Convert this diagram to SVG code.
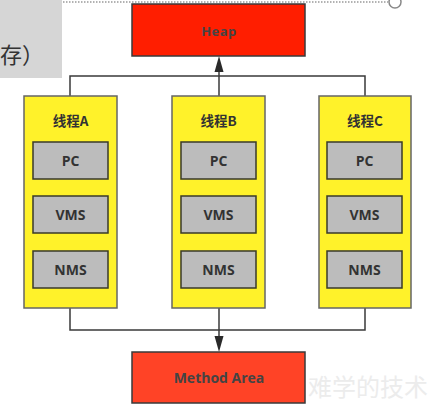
<svg xmlns="http://www.w3.org/2000/svg" width="437" height="415" viewBox="0 0 437 415">
<style>
.thread{fill:#fff22a;stroke:#666;stroke-width:1.5}
.slot{fill:#bcbcbc;stroke:#3a3a2a;stroke-width:1.5}
.lbl{font-family:"Open Sans","Noto Sans CJK SC",sans-serif;font-weight:bold;font-size:14px;fill:#333;text-anchor:middle}
.tl{font-family:"Noto Sans CJK SC","Open Sans",sans-serif;font-weight:bold;font-size:13.5px;fill:#333;text-anchor:middle}
.conn{fill:none;stroke:#3a3a3a;stroke-width:1.5}
.head{fill:#2a2a2a}
</style>
<rect width="437" height="415" fill="#ffffff"/>
<line x1="0" y1="2" x2="388" y2="2" stroke="#999" stroke-width="1.5" stroke-dasharray="1.5,1.5"/>
<circle cx="395" cy="2" r="6" fill="#fff" stroke="#888" stroke-width="1.5"/>
<g id="slide-fragment">
<rect x="0" y="0" width="62" height="78" fill="#d6d6d6"/>
<text x="0" y="63" font-family="Noto Sans CJK SC,sans-serif" font-size="22" fill="#333">存）</text>
</g>
<text x="308" y="396" font-family="Noto Sans CJK SC,sans-serif" font-size="24" fill="#ececec">难学的技术</text>
<g id="connectors">
<path class="conn" d="M70,96 V76 H365 V96"/>
<path class="conn" d="M219,96 V70"/>
<path class="head" d="M219,56 L214.5,72 L223.5,72 z"/>
<path class="conn" d="M70,308 V330 H365 V308"/>
<path class="conn" d="M219,308 V338"/>
<path class="head" d="M219,352 L214.5,336 L223.5,336 z"/>
</g>
<g id="heap">
<rect x="132" y="4" width="173" height="52" fill="#ff1e00" stroke="#3a3a3a" stroke-width="1.5"/>
<text x="219" y="36" class="lbl" style="font-size:13px;fill:#444;letter-spacing:0.5px">Heap</text>
</g>
<g id="threadA">
<rect class="thread" x="24" y="96" width="93" height="212"/>
<text class="tl" x="70.5" y="126">线程A</text>
<rect class="slot" x="33" y="142" width="75" height="37"/>
<text class="lbl" x="70.5" y="166">PC</text>
<rect class="slot" x="33" y="196" width="75" height="37"/>
<text class="lbl" x="70.5" y="220">VMS</text>
<rect class="slot" x="33" y="251" width="75" height="37"/>
<text class="lbl" x="70.5" y="275">NMS</text>
</g>
<g id="threadB">
<rect class="thread" x="172" y="96" width="93" height="212"/>
<text class="tl" x="218.5" y="126">线程B</text>
<rect class="slot" x="181" y="142" width="75" height="37"/>
<text class="lbl" x="218.5" y="166">PC</text>
<rect class="slot" x="181" y="196" width="75" height="37"/>
<text class="lbl" x="218.5" y="220">VMS</text>
<rect class="slot" x="181" y="251" width="75" height="37"/>
<text class="lbl" x="218.5" y="275">NMS</text>
</g>
<g id="threadC">
<rect class="thread" x="319" y="96" width="92" height="212"/>
<text class="tl" x="365" y="126">线程C</text>
<rect class="slot" x="327" y="142" width="75" height="37"/>
<text class="lbl" x="364.5" y="166">PC</text>
<rect class="slot" x="327" y="196" width="75" height="37"/>
<text class="lbl" x="364.5" y="220">VMS</text>
<rect class="slot" x="327" y="251" width="75" height="37"/>
<text class="lbl" x="364.5" y="275">NMS</text>
</g>
<g id="method-area">
<rect x="132" y="352" width="173" height="51" fill="#ff4326" stroke="#3a3a3a" stroke-width="1.5"/>
<text x="219" y="383" class="lbl" style="font-size:14px;fill:#444">Method Area</text>
</g>
</svg>
